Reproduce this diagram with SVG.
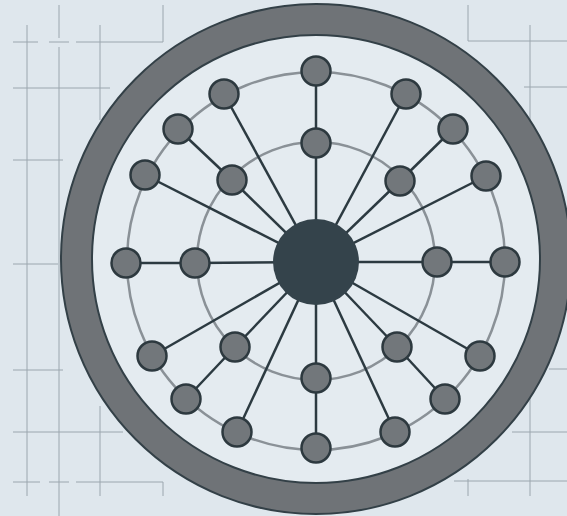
<svg xmlns="http://www.w3.org/2000/svg" width="567" height="516" viewBox="0 0 567 516">
<style>
.grid{stroke:#9ba6ae;stroke-width:1;fill:none}
.orbit{stroke:#8a9197;stroke-width:2.5;fill:none}
.spoke{stroke:#2c3a41;stroke-width:2.5}
.node{fill:#72777b;stroke:#2d393f;stroke-width:2.5}
.ringedge{fill:none;stroke:#334047;stroke-width:2}
</style>
<rect width="567" height="516" fill="#dfe7ed"/>
<g id="grid" class="grid">
<path d="M59 5V38M59 47V516M27 25V496M100 25V120M100 406V496M163 5V42"/>
<path d="M13 42H38M49 42H69M76 42H163M13 88H110M13 160H63M13 264H58M13 370H63M13 432H123M13 482H40M49 482H69M76 482H163M163 482V496"/>
<path d="M468 5V41M468 41H567M530 25V496M524 87H567M549 369H567M512 432H567M454 481H567M468 479V496"/>
</g>
<g id="ring">
<circle cx="316" cy="259" r="239.5" fill="none" stroke="#6f7377" stroke-width="31"/>
<circle cx="316" cy="259" r="224" fill="#e4ebf0"/>
<circle class="ringedge" cx="316" cy="259" r="255"/>
<circle class="ringedge" cx="316" cy="259" r="224"/>
</g>
<g id="orbits">
<circle class="orbit" cx="316" cy="261" r="189"/>
<circle class="orbit" cx="316" cy="261" r="119"/>
</g>
<g id="connectors" class="spoke">
<line x1="316" y1="262" x2="316" y2="143"/><line x1="316" y1="143" x2="316" y2="71"/>
<line x1="316" y1="262" x2="400" y2="181"/><line x1="400" y1="181" x2="453" y2="129"/>
<line x1="316" y1="262" x2="437" y2="262"/><line x1="437" y1="262" x2="505" y2="262"/>
<line x1="316" y1="262" x2="397" y2="347"/><line x1="397" y1="347" x2="445" y2="399"/>
<line x1="316" y1="262" x2="316" y2="378"/><line x1="316" y1="378" x2="316" y2="448"/>
<line x1="316" y1="262" x2="235" y2="347"/><line x1="235" y1="347" x2="186" y2="399"/>
<line x1="316" y1="262" x2="195" y2="263"/><line x1="195" y1="263" x2="126" y2="263"/>
<line x1="316" y1="262" x2="232" y2="180"/><line x1="232" y1="180" x2="178" y2="129"/>
<line x1="316" y1="262" x2="406" y2="94"/>
<line x1="316" y1="262" x2="486" y2="176"/>
<line x1="316" y1="262" x2="480" y2="356"/>
<line x1="316" y1="262" x2="395" y2="432"/>
<line x1="316" y1="262" x2="237" y2="432"/>
<line x1="316" y1="262" x2="152" y2="356"/>
<line x1="316" y1="262" x2="145" y2="175"/>
<line x1="316" y1="262" x2="224" y2="94"/>
</g>
<g id="hub"><circle cx="316" cy="262" r="43" fill="#34434b"/></g>
<g id="inner-n"><circle class="node" cx="316" cy="143" r="14.5"/></g>
<g id="inner-ne"><circle class="node" cx="400" cy="181" r="14.5"/></g>
<g id="inner-e"><circle class="node" cx="437" cy="262" r="14.5"/></g>
<g id="inner-se"><circle class="node" cx="397" cy="347" r="14.5"/></g>
<g id="inner-s"><circle class="node" cx="316" cy="378" r="14.5"/></g>
<g id="inner-sw"><circle class="node" cx="235" cy="347" r="14.5"/></g>
<g id="inner-w"><circle class="node" cx="195" cy="263" r="14.5"/></g>
<g id="inner-nw"><circle class="node" cx="232" cy="180" r="14.5"/></g>
<g id="outer-1"><circle class="node" cx="316" cy="71" r="14.5"/></g>
<g id="outer-2"><circle class="node" cx="406" cy="94" r="14.5"/></g>
<g id="outer-3"><circle class="node" cx="453" cy="129" r="14.5"/></g>
<g id="outer-4"><circle class="node" cx="486" cy="176" r="14.5"/></g>
<g id="outer-5"><circle class="node" cx="505" cy="262" r="14.5"/></g>
<g id="outer-6"><circle class="node" cx="480" cy="356" r="14.5"/></g>
<g id="outer-7"><circle class="node" cx="445" cy="399" r="14.5"/></g>
<g id="outer-8"><circle class="node" cx="395" cy="432" r="14.5"/></g>
<g id="outer-9"><circle class="node" cx="316" cy="448" r="14.5"/></g>
<g id="outer-10"><circle class="node" cx="237" cy="432" r="14.5"/></g>
<g id="outer-11"><circle class="node" cx="186" cy="399" r="14.5"/></g>
<g id="outer-12"><circle class="node" cx="152" cy="356" r="14.5"/></g>
<g id="outer-13"><circle class="node" cx="126" cy="263" r="14.5"/></g>
<g id="outer-14"><circle class="node" cx="145" cy="175" r="14.5"/></g>
<g id="outer-15"><circle class="node" cx="178" cy="129" r="14.5"/></g>
<g id="outer-16"><circle class="node" cx="224" cy="94" r="14.5"/></g>
</svg>
